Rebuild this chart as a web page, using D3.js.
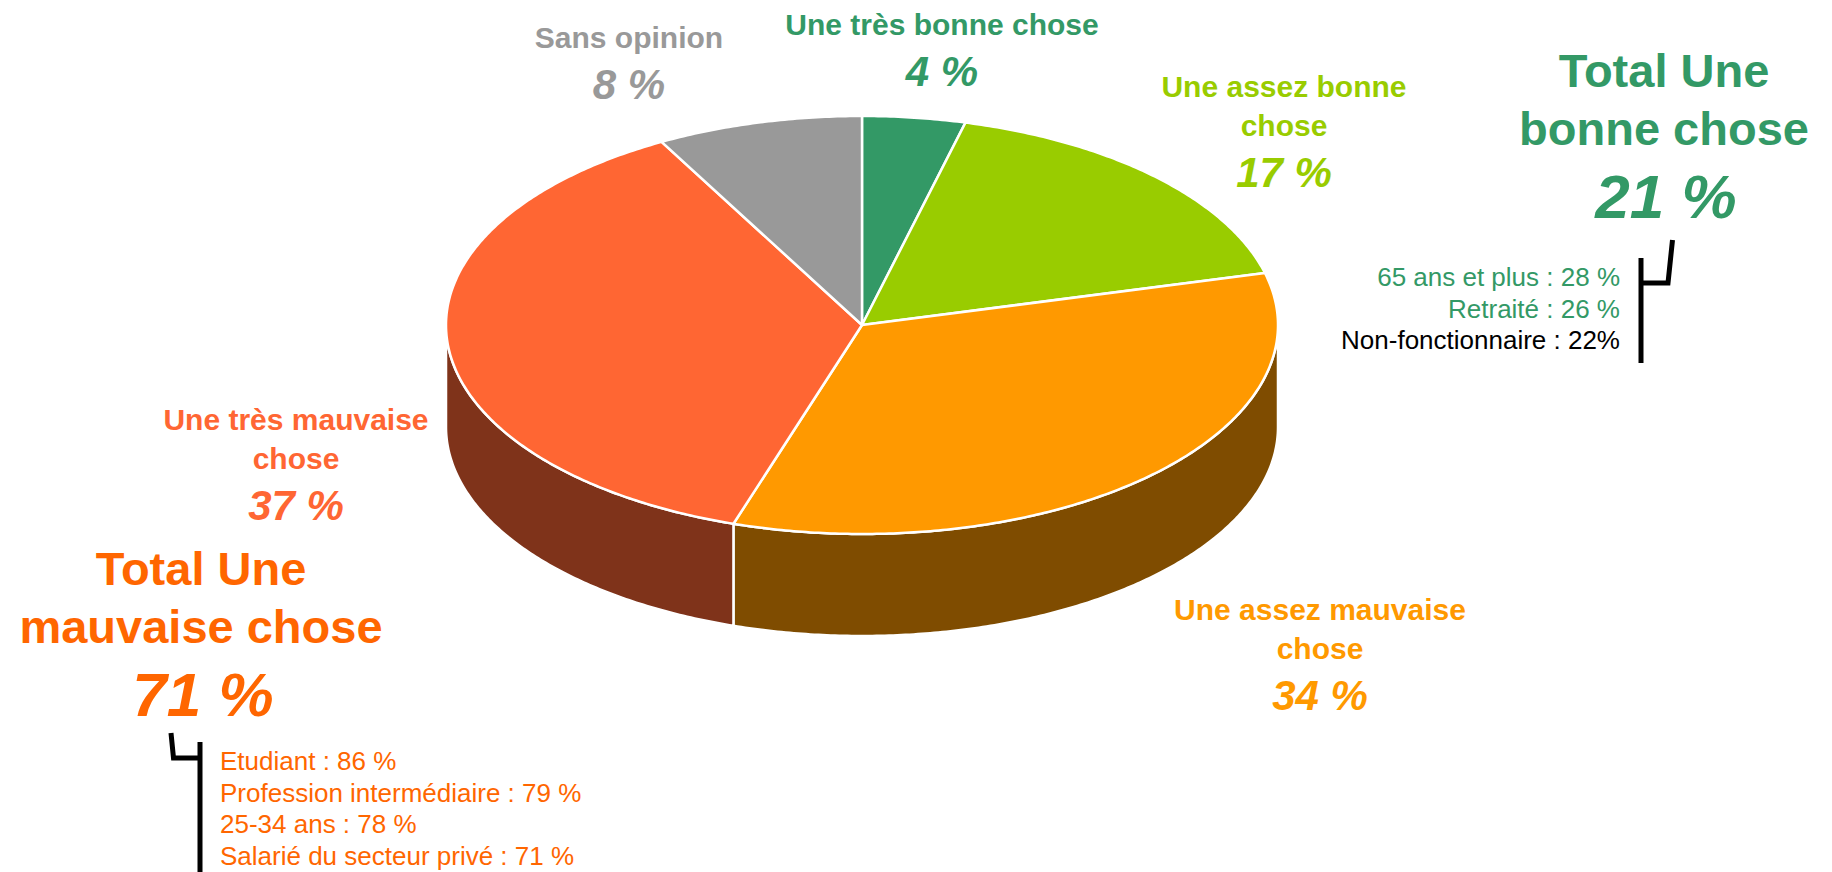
<!DOCTYPE html>
<html>
<head>
<meta charset="utf-8">
<script src="https://cdn.jsdelivr.net/npm/d3@7/dist/d3.min.js"></script>
<style>
  html, body { margin: 0; padding: 0; background: #fff; }
  text { font-family: "Liberation Sans", Arial, sans-serif; }
</style>
</head>
<body>
<div id="chart"></div>
<script>
var width = 1832;
var height = 872;

// data
var categories = ["Une très bonne chose", "Une assez bonne chose", "Une assez mauvaise chose", "Une très mauvaise chose", "Sans opinion"];
var values = [4, 17, 34, 37, 8];
var labelLines = [["Une très bonne chose"], ["Une assez bonne", "chose"], ["Une assez mauvaise", "chose"], ["Une très mauvaise", "chose"], ["Sans opinion"]];

var totalLines = [["Total Une", "bonne chose"], ["Total Une", "mauvaise chose"]];
var totalValues = [21, 71];

var subGood = ["65 ans et plus : 28 %", "Retraité : 26 %", "Non-fonctionnaire : 22%"];
var subBad = ["Etudiant : 86 %", "Profession intermédiaire : 79 %", "25-34 ans : 78 %", "Salarié du secteur privé : 71 %"];

// colours
var color = d3.scaleOrdinal()
  .domain(categories)
  .range(["#339966", "#99CC00", "#FF9900", "#FF6633", "#999999"]);
var sideColor = d3.scaleOrdinal()
  .domain(categories)
  .range(["#1a4c33", "#4c6600", "#7F4C00", "#7F331A", "#4c4c4c"]);
var totalColor = ["#339966", "#FF6600"];
var subGoodColor = ["#339966", "#339966", "#000000"];

// pie geometry
var cx = 862, cy = 325, rx = 416, ry = 209, depth = 102;

var svg = d3.select("#chart")
  .append("svg")
    .attr("width", width)
    .attr("height", height);

var pie = d3.pie().sort(null).value(function (d) { return d; });
var arcs = pie(values);

function pt(a, dy) {
  return [cx + rx * Math.sin(a), cy - ry * Math.cos(a) + (dy || 0)];
}

function topPath(d) {
  var p = d3.path();
  p.moveTo(cx, cy);
  var n = Math.max(2, Math.ceil((d.endAngle - d.startAngle) / 0.01));
  for (var i = 0; i <= n; i++) {
    var a = d.startAngle + (d.endAngle - d.startAngle) * i / n;
    var q = pt(a);
    p.lineTo(q[0], q[1]);
  }
  p.closePath();
  return p.toString();
}

function sidePath(d) {
  var a0 = Math.max(d.startAngle, Math.PI / 2);
  var a1 = Math.min(d.endAngle, Math.PI * 1.5);
  if (a1 <= a0) return null;
  var p = d3.path();
  var n = Math.ceil((a1 - a0) / 0.01);
  var i, a, q;
  for (i = 0; i <= n; i++) {
    a = a0 + (a1 - a0) * i / n;
    q = pt(a);
    if (i == 0) p.moveTo(q[0], q[1]); else p.lineTo(q[0], q[1]);
  }
  for (i = n; i >= 0; i--) {
    a = a0 + (a1 - a0) * i / n;
    q = pt(a, depth);
    p.lineTo(q[0], q[1]);
  }
  p.closePath();
  return p.toString();
}

// sides
svg.append("g")
  .selectAll("path")
  .data(arcs.filter(function (d) { return sidePath(d) != null; }))
  .enter()
  .append("path")
    .attr("d", sidePath)
    .attr("fill", function (d, i) { return sideColor(categories[d.index]); })
    .attr("stroke", "#fff")
    .attr("stroke-width", 2.5)
    .attr("stroke-linejoin", "round");

// top faces
svg.append("g")
  .selectAll("path")
  .data(arcs)
  .enter()
  .append("path")
    .attr("d", topPath)
    .attr("fill", function (d) { return color(categories[d.index]); })
    .attr("stroke", "#fff")
    .attr("stroke-width", 2.5)
    .attr("stroke-linejoin", "round");

// slice labels (centre x, first baseline)
var labelPos = [[942, 35], [1284, 97], [1320, 620], [296, 430], [629, 48]];
var lineGap = 39, pctGap = 51;

var labels = svg.append("g")
  .selectAll("g")
  .data(categories)
  .enter()
  .append("g")
    .attr("fill", function (d) { return color(d); })
    .attr("text-anchor", "middle");

labels.each(function (d, i) {
  var g = d3.select(this);
  var x = labelPos[i][0], y = labelPos[i][1];
  labelLines[i].forEach(function (line, j) {
    g.append("text")
      .attr("x", x)
      .attr("y", y + j * lineGap)
      .attr("font-size", 30)
      .attr("font-weight", "bold")
      .text(line);
  });
  g.append("text")
    .attr("x", x)
    .attr("y", y + (labelLines[i].length - 1) * lineGap + pctGap)
    .attr("font-size", 42)
    .attr("font-weight", "bold")
    .attr("font-style", "italic")
    .text(values[i] + " %");
});

// totals
var totalPos = [[1664, 87], [201, 585]];
totalLines.forEach(function (lines, i) {
  var g = svg.append("g")
    .attr("fill", totalColor[i])
    .attr("text-anchor", "middle");
  lines.forEach(function (line, j) {
    g.append("text")
      .attr("x", totalPos[i][0])
      .attr("y", totalPos[i][1] + j * 58)
      .attr("font-size", 47)
      .attr("font-weight", "bold")
      .text(line);
  });
  g.append("text")
    .attr("x", totalPos[i][0] + 2)
    .attr("y", totalPos[i][1] + 58 + 73)
    .attr("font-size", 62)
    .attr("font-weight", "bold")
    .attr("font-style", "italic")
    .text(totalValues[i] + " %");
});

// sub group details
svg.append("g")
  .attr("text-anchor", "end")
  .selectAll("text")
  .data(subGood)
  .enter()
  .append("text")
    .attr("x", 1620)
    .attr("y", function (d, i) { return 286 + i * 31.5; })
    .attr("font-size", 26)
    .attr("fill", function (d, i) { return subGoodColor[i]; })
    .text(function (d) { return d; });

svg.append("g")
  .attr("text-anchor", "start")
  .selectAll("text")
  .data(subBad)
  .enter()
  .append("text")
    .attr("x", 220)
    .attr("y", function (d, i) { return 770 + i * 31.7; })
    .attr("font-size", 26)
    .attr("fill", "#FF6600")
    .text(function (d) { return d; });

// brackets
var bracket = svg.append("g")
  .attr("fill", "none")
  .attr("stroke", "#000")
  .attr("stroke-width", 5)
  .attr("stroke-linejoin", "miter");

bracket.append("path").attr("d", "M1672.5,240L1668,283L1641,283");
bracket.append("path").attr("d", "M1641,258L1641,363");
bracket.append("path").attr("d", "M171,733L173.5,758L200,758");
bracket.append("path").attr("d", "M200,742L200,872");
</script>
</body>
</html>
